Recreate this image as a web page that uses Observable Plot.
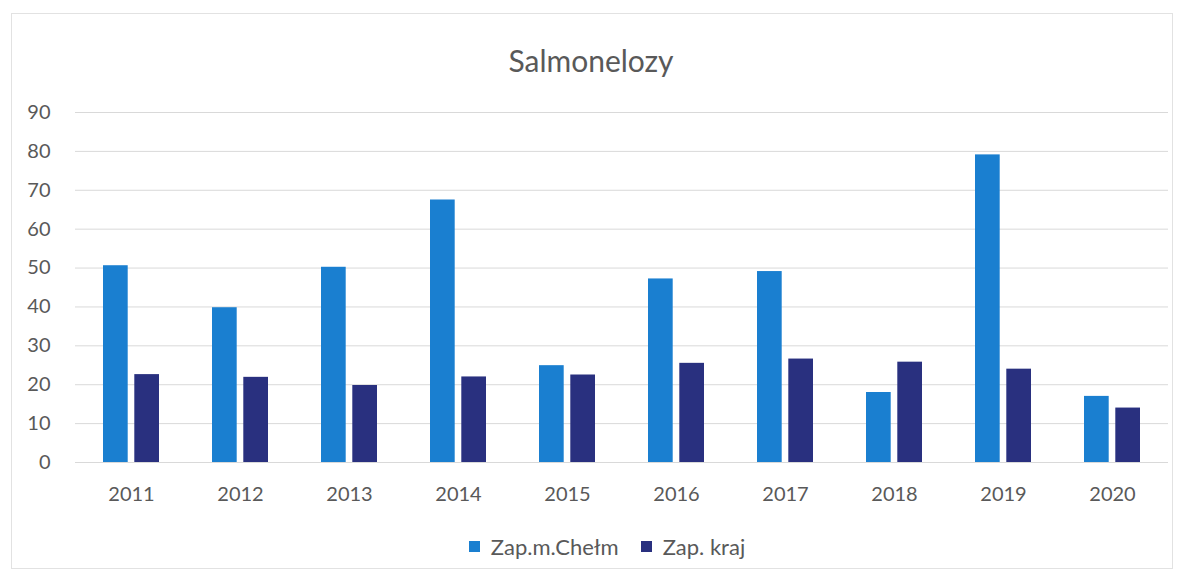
<!DOCTYPE html>
<html>
<head>
<meta charset="utf-8">
<script src="https://cdn.jsdelivr.net/npm/d3@7"></script>
<script src="https://cdn.jsdelivr.net/npm/@observablehq/plot@0.6"></script>
<style>
  html, body { margin: 0; padding: 0; background: #fff; }
  body { width: 1182px; height: 575px; position: relative; overflow: hidden; font-family: Lato, "Open Sans", sans-serif; color: #595959; }
  #frame { position: absolute; left: 11px; top: 13px; width: 1162px; height: 556px; border: 1px solid #e2e2e2; box-sizing: border-box; }
  #title { position: absolute; left: 0; width: 1182px; top: 40px; text-align: center; font-size: 30px; line-height: 40px; color: #595959; }
  #chart { position: absolute; left: 0; top: 90px; }
  #legend { position: absolute; left: 54px; width: 1128px; top: 530px; display: flex; justify-content: center; }
</style>
</head>
<body>
<div id="frame"></div>
<div id="title">Salmonelozy</div>
<div id="chart"></div>
<div id="legend"></div>
<script>
const years = ["2011","2012","2013","2014","2015","2016","2017","2018","2019","2020"];
const seriesNames = ["Zap.m.Chełm", "Zap. kraj"];
const chelm = [50.6, 39.8, 50.2, 67.5, 24.9, 47.2, 49.1, 18.0, 79.1, 17.0];
const kraj  = [22.6, 21.9, 19.8, 22.0, 22.5, 25.5, 26.6, 25.8, 24.0, 14.0];
const yTicks = [0, 10, 20, 30, 40, 50, 60, 70, 80, 90];
const colors = ["#1a7fd0", "#29307f"];

const chelmData = years.map((yr, i) => ({year: yr, series: seriesNames[0], value: chelm[i]}));
const krajData = years.map((yr, i) => ({year: yr, series: seriesNames[1], value: kraj[i]}));

const plot = Plot.plot({
  width: 1182,
  height: 430,
  marginTop: 22,
  marginBottom: 58,
  marginLeft: 75,
  marginRight: 14,
  style: {fontFamily: "Lato, 'Open Sans', sans-serif", color: "#595959", fontSize: "20px", background: "transparent"},
  x: {domain: years, paddingInner: 0.49, paddingOuter: 0.245, label: null},
  y: {domain: [0, 90], label: null},
  color: {domain: seriesNames, range: colors},
  marks: [
    Plot.gridY(yTicks, {stroke: "#d9d9d9", strokeOpacity: 1, strokeWidth: 1}),
    Plot.barY(chelmData, {x: "year", y: "value", fill: "series", insetRight: 31.3}),
    Plot.barY(krajData, {x: "year", y: "value", fill: "series", insetLeft: 31.3}),
    Plot.axisY(yTicks, {tickSize: 0, tickPadding: 25, label: null, fontSize: 20, fill: "#595959"}),
    Plot.axisX({tickSize: 0, tickPadding: 24, label: null, fontSize: 20, fill: "#595959"})
  ]
});
document.getElementById("chart").appendChild(plot);

const legend = plot.legend("color", {
  legend: "swatches",
  swatchSize: 11,
  style: {fontFamily: "Lato, 'Open Sans', sans-serif", fontSize: "22px", color: "#595959"}
});
document.getElementById("legend").appendChild(legend);
</script>
</body>
</html>
